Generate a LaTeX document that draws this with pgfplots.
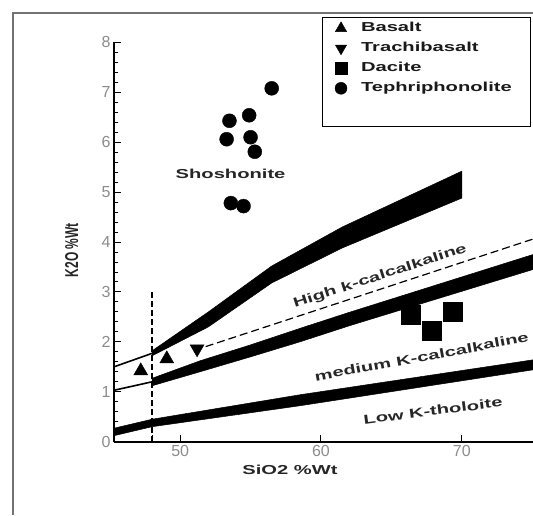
\documentclass[border=0pt]{standalone}
\usepackage{pgfplots}
\pgfplotsset{compat=1.18}
\usepackage{graphicx}
\usepackage{fontspec}
\setmainfont{Liberation Sans}
\newfontfamily\labfont{Liberation Sans}[FakeStretch=1.55]
\newcommand{\lab}{\labfont\bfseries\fontsize{13}{15}\selectfont}
\newcommand{\tickfont}{\fontsize{16}{18}\selectfont}
\begin{document}
\begin{tikzpicture}
\useasboundingbox (0,0) rectangle (533pt,515pt);
\draw[black!55, line width=1.5pt] (13pt,0pt) -- (13pt,502pt) -- (533pt,502pt);
\begin{axis}[
  at={(114pt,73.3pt)}, anchor=south west, scale only axis,
  width=419pt, height=399.3pt,
  xmin=45.3, xmax=75.06, ymin=0, ymax=8,
  axis lines*=left,
  axis line style={line width=1.6pt, black},
  xtick={48,50,60,70}, xticklabels={,50,60,70},
  ytick={0,1,...,8}, minor y tick num=4,
  tick align=inside, major tick length=7pt, minor tick length=4pt,
  every tick/.style={black, line width=1pt},
  tick label style={font=\tickfont, text=black!45},
  /pgf/number format/assume math mode=true,
  xlabel={SiO2 \%Wt},
  x label style={at={(axis description cs:0.42,-0.0709)}, anchor=center, font=\lab, text=black!85},
  ylabel={\scalebox{1}[1.55]{\bfseries\fontsize{12}{14}\selectfont K2O \%Wt}},
  y label style={at={(axis description cs:-0.101,0.48)}, anchor=center, rotate=0, text=black!85},
  legend style={draw=none, fill=none, at={(0.5227,1.0516)}, anchor=north west,
    inner sep=0pt, outer sep=0pt, row sep=7pt, column sep=12pt,
    font=\lab, text=black!90,
    nodes={inner sep=0pt, text height=10pt, text depth=3pt}},
  legend cell align=left,
  legend image code/.code={\path[draw=none, fill=none] (-8pt,-6.5pt) rectangle (8pt,6.5pt); \draw[#1] plot coordinates {(0pt,0pt)};},
]
% legend images
\addlegendimage{only marks, mark=triangle*, mark size=6.5pt, black}
\addlegendentry{Basalt}
\addlegendimage{only marks, mark=triangle*, mark size=6.5pt, mark options={rotate=180}, black}
\addlegendentry{Trachibasalt}
\addlegendimage{only marks, mark=square*, mark size=6pt, black}
\addlegendentry{Dacite}
\addlegendimage{only marks, mark=*, mark size=6pt, black}
\addlegendentry{Tephriphonolite}

% Low K tholeiite / medium K boundary band
\addplot[forget plot, fill=black, draw=black, line width=0.5pt] coordinates {
 (45.3,0.27) (48,0.45) (58.5,0.94) (75.06,1.64)
 (75.06,1.44) (58.5,0.72) (48,0.30) (45.3,0.12)} -- cycle;
% medium / high K boundary
\addplot[forget plot, black, line width=1.6pt] coordinates {(45.3,1.03) (48,1.2)};
\addplot[forget plot, fill=black, draw=black, line width=0.5pt] coordinates {
 (48,1.27) (51.4,1.62) (55,1.94) (58.5,2.27) (62.1,2.60) (75.06,3.75)
 (75.06,3.45) (62.1,2.33) (58.5,2.0) (55,1.70) (51.4,1.40) (48,1.12)} -- cycle;
% dashed line
\addplot[forget plot, black, line width=1.2pt, dash pattern=on 8pt off 4pt] coordinates {(51,1.83) (75.06,4.06)};
% high K / shoshonite boundary
\addplot[forget plot, black, line width=1.6pt] coordinates {(45.3,1.5) (48,1.77)};
\addplot[forget plot, fill=black, draw=black, line width=0.5pt] coordinates {
 (48,1.82) (52,2.60) (56.5,3.52) (61.5,4.30) (70,5.42)
 (70,4.88) (61.5,3.88) (56.5,3.18) (52,2.30) (48,1.72)} -- cycle;
% vertical dashed line
\addplot[forget plot, black, line width=1.2pt, dash pattern=on 6pt off 3pt] coordinates {(48,0) (48,3.05)};

% data
\addplot[forget plot, only marks, mark=triangle*, mark size=8pt, black] coordinates {(47.2,1.42) (49.05,1.66)};
\addplot[forget plot, only marks, mark=triangle*, mark size=8pt, mark options={rotate=180}, black] coordinates {(51.2,1.86)};
\addplot[forget plot, only marks, mark=square*, mark size=9.5pt, black] coordinates {(66.35,2.54) (67.9,2.22) (69.35,2.6)};
\addplot[forget plot, only marks, mark=*, mark size=7pt, black] coordinates {
 (56.5,7.08) (53.5,6.43) (54.9,6.54) (53.3,6.06) (55.0,6.10) (55.3,5.81) (53.6,4.78) (54.5,4.72)};

\node[font=\lab, text=black!85] at (axis cs:53.58,5.36) {Shoshonite};
\node[font=\lab, text=black!85, rotate=18] at (axis cs:64.2,3.31) {High k-calcalkaline};
\node[font=\lab, text=black!85, rotate=10.5] at (axis cs:67.15,1.70) {medium K-calcalkaline};
\node[font=\lab, text=black!85, rotate=7.3] at (axis cs:67.95,0.62) {Low K-tholoite};
\end{axis}
\draw[black, line width=1.5pt] (322.5pt,497.7pt) rectangle (530.7pt,388.3pt);
\end{tikzpicture}
\end{document}
